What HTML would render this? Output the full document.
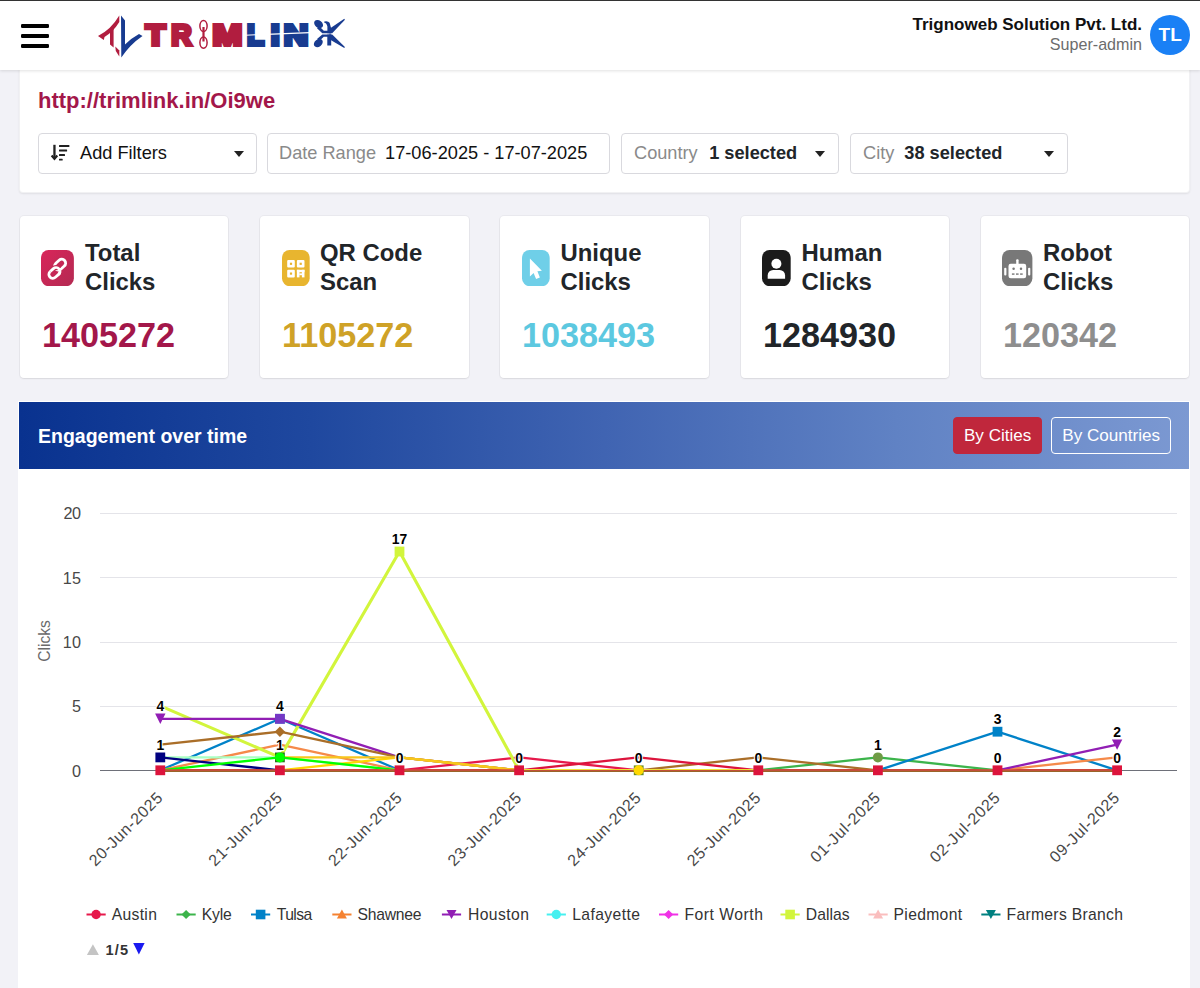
<!DOCTYPE html>
<html lang="en">
<head>
<meta charset="utf-8">
<title>Trimlink Analytics</title>
<style>
*{box-sizing:border-box;margin:0;padding:0}
html,body{width:1200px;height:988px;overflow:hidden}
body{background:#f2f2f7;font-family:"Liberation Sans",Arial,sans-serif;color:#212529;position:relative}
.abs{position:absolute}
/* header */
#hdr{position:absolute;left:0;top:0;width:1200px;height:70px;background:#fff;border-top:1px solid #333;box-shadow:0 1px 3px rgba(0,0,0,.12);z-index:5}
.bar{position:absolute;left:21.4px;width:27.8px;height:4.2px;background:#000;border-radius:1.2px}
#org{position:absolute;right:58px;top:14px;text-align:right;font-weight:bold;font-size:17px;color:#111;line-height:20px;white-space:nowrap}
#role{position:absolute;right:58px;top:33.1px;text-align:right;font-size:16.1px;color:#6c6c6c;line-height:20px;white-space:nowrap}
#avatar{position:absolute;left:1150px;top:13.6px;width:40.4px;height:40.4px;border-radius:50%;background:#1a80f5;color:#fff;font-weight:bold;font-size:19px;text-align:center;line-height:40.6px}
/* filter card */
#fcard{position:absolute;left:19px;top:66px;width:1171px;height:126.5px;background:#fff;border-radius:4px;box-shadow:inset 0 0 0 1px rgba(60,60,90,.07),0 1px 2px rgba(0,0,0,.08)}
#url{position:absolute;left:19px;top:23.2px;font-size:22px;font-weight:bold;color:#a3174a;line-height:24px;white-space:nowrap}
.sel{position:absolute;top:67px;height:41px;border:1px solid #d9d9de;border-radius:4px;background:#fff;font-size:18.2px;line-height:39px;white-space:nowrap;color:#111}
.sel .lb{color:#8a8a8a}
.sel b{color:#212529}
.caret{position:absolute;top:17px;width:0;height:0;border-left:5px solid transparent;border-right:5px solid transparent;border-top:6px solid #222}
/* stat cards */
.stat{position:absolute;top:216.4px;width:208.5px;height:161.6px;background:#fff;border-radius:4px;box-shadow:0 0 0 1px rgba(0,0,0,.035),0 1px 2px rgba(0,0,0,.07)}
.stat .ttl{position:absolute;top:22.7px;font-size:23.9px;font-weight:bold;line-height:28.6px;color:#212529;white-space:nowrap}
.stat .num{position:absolute;top:97.4px;font-size:34.2px;font-weight:bold;line-height:42px;white-space:nowrap}
/* chart */
#panel{position:absolute;left:18.4px;top:401.3px;width:1171.2px;height:600px;background:#fff;overflow:hidden}
#phead{position:absolute;left:1px;top:1px;width:1169.8px;height:66.3px;background:linear-gradient(90deg,#09328f 0%,#1f489f 25%,#4064b2 50%,#6082c4 75%,#7c99d2 100%)}
#ptitle{position:absolute;left:18.6px;top:22.4px;font-size:19.5px;font-weight:bold;color:#fff;line-height:22px;white-space:nowrap}
.btn{position:absolute;top:14.6px;height:37.4px;border-radius:4px;color:#fff;font-size:17.1px;line-height:35.6px;text-align:center;white-space:nowrap}
#chart{position:absolute;left:0;top:0}
</style>
</head>
<body>
<div id="hdr">
  <div class="bar" style="top:22.8px"></div>
  <div class="bar" style="top:32.7px"></div>
  <div class="bar" style="top:42.8px"></div>
  <svg id="logo" class="abs" style="left:90px;top:4px" width="270" height="60" viewBox="90 5 270 60" role="img" aria-label="TRIMLINK">
<path d="M98,36 Q111,29.5 119.3,15.5 L119.3,22 Q113.5,31.5 104.5,37 L103.8,40 Z" fill="#b11d3f"/>
<path d="M110,30.5 L113.6,27 L113.6,47.5 L110,44.5 Z" fill="#b11d3f"/>
<path d="M115.3,46.5 L119.3,50.5 L119.3,56.5 L115.8,51 Z" fill="#b11d3f"/>
<path d="M121,15.5 L125,20.5 L125,44.5 Q131.5,38 139,34 L142.5,36 Q130,44.5 121.3,57.5 Z" fill="#183b90"/>
<text transform="translate(145.83,45.4) scale(1.128,1)" font-size="28.6" fill="#b11d3f" stroke="#b11d3f" stroke-width="3.8" stroke-linejoin="miter" font-family="Liberation Sans, Arial, sans-serif" font-weight="bold">T</text>
<text transform="translate(171.29,45.4) scale(0.987,1)" font-size="28.6" fill="#b11d3f" stroke="#b11d3f" stroke-width="3.8" stroke-linejoin="miter" font-family="Liberation Sans, Arial, sans-serif" font-weight="bold">R</text>
<text transform="translate(212.62,45.4) scale(1.247,1)" font-size="28.6" fill="#b11d3f" stroke="#b11d3f" stroke-width="3.8" stroke-linejoin="miter" font-family="Liberation Sans, Arial, sans-serif" font-weight="bold">M</text>
<text transform="translate(246.99,45.4) scale(0.980,1)" font-size="28.6" fill="#183b90" stroke="#183b90" stroke-width="3.8" stroke-linejoin="miter" font-family="Liberation Sans, Arial, sans-serif" font-weight="bold">L</text>
<text transform="translate(270.81,45.4) scale(1.117,1)" font-size="28.6" fill="#183b90" stroke="#183b90" stroke-width="3.8" stroke-linejoin="miter" font-family="Liberation Sans, Arial, sans-serif" font-weight="bold">I</text>
<text transform="translate(283.71,45.4) scale(1.188,1)" font-size="28.6" fill="#183b90" stroke="#183b90" stroke-width="3.8" stroke-linejoin="miter" font-family="Liberation Sans, Arial, sans-serif" font-weight="bold">N</text>
<line x1="245" y1="35.2" x2="310" y2="32.6" stroke="#fff" stroke-width="1.1"/>
<g fill="none" stroke="#b11d3f" stroke-width="1.5"><ellipse cx="203.5" cy="26" rx="3.6" ry="5.6"/><ellipse cx="203.5" cy="42.6" rx="3.6" ry="5.6"/><path d="M203.5,27 V41.5" stroke-width="2.2"/></g>
<g fill="#183b90"><ellipse cx="318.6" cy="24.1" rx="4.9" ry="3.6" transform="rotate(38 318.6 24.1)"/><polygon points="319.5,26.5 323.8,30.8 331,30.8 331,33.2 322.3,33.2 317,28.3"/><path d="M324.3,21.4 Q328.2,20.6 329.6,22.8 L331.2,28.5 L331.2,33.2 L327.4,33.2 L327.4,26.5 Q326.6,23 324.3,22.7 Z"/><polygon points="329.5,28.8 344.3,18.8 344.9,19.7 332.2,33.2 329,33.2"/><ellipse cx="318.3" cy="43.1" rx="4.9" ry="3.6" transform="rotate(-38 318.3 43.1)"/><polygon points="317,39 322.3,34.6 331,34.6 331,36.8 323.8,36.8 319.5,40.8"/><rect x="327.3" y="34.6" width="3.9" height="10.9"/><polygon points="329,34.6 332.2,34.6 344.9,47 344.3,47.9 329.8,39.6"/></g>
</svg>
  <div id="org">Trignoweb Solution Pvt. Ltd.</div>
  <div id="role">Super-admin</div>
  <div id="avatar">TL</div>
</div>

<div id="fcard">
  <div id="url">http://trimlink.in/Oi9we</div>
  <div class="sel" style="left:19px;width:219px"><svg class="abs" style="left:11px;top:9px" width="22" height="20" viewBox="50 143 22 20"><g fill="#212121"><rect x="53.3" y="144.8" width="2.3" height="14"/><polygon points="50.8,156.2 52.4,154.8 54.45,157.2 56.5,154.8 58.1,156.2 54.45,160.4"/><rect x="59" y="145" width="10.4" height="1.9" rx=".5"/><rect x="59" y="149.6" width="8.1" height="1.9" rx=".5"/><rect x="59" y="154.1" width="6" height="1.9" rx=".5"/><rect x="59" y="158.7" width="3.7" height="1.9" rx=".5"/></g></svg><span style="margin-left:41px">Add Filters</span><i class="caret" style="left:195px"></i></div>
  <div class="sel" style="left:248px;width:343px"><span class="lb" style="margin-left:11px">Date Range</span><span style="margin-left:9px">17-06-2025 - 17-07-2025</span></div>
  <div class="sel" style="left:602px;width:218px"><span class="lb" style="margin-left:12px">Country</span><b style="margin-left:11.5px">1 selected</b><i class="caret" style="left:193px"></i></div>
  <div class="sel" style="left:831px;width:218px"><span class="lb" style="margin-left:12px">City</span><b style="margin-left:10px">38 selected</b><i class="caret" style="left:193px"></i></div>
</div>

<div class="stat" style="left:19.5px"><svg class="abs" style="left:21.8px;top:33.2px" width="32.9" height="36.2" viewBox="41.3 249.6 32.9 36.2"><defs><linearGradient id="g1" x1="0" y1="0" x2="1" y2="1"><stop offset="0" stop-color="#d9255a"/><stop offset="1" stop-color="#b32a52"/></linearGradient></defs><rect x="41.3" y="249.6" width="32.9" height="36.2" rx="7.5" ry="8" fill="url(#g1)"/><g fill="none" transform="rotate(-42 57.7 268.4)"><rect x="46.6" y="265.6" width="12.2" height="7.8" rx="3.9" stroke="#fff" stroke-width="2.8"/><rect x="56.4" y="263.2" width="12.2" height="7.8" rx="3.9" stroke="#c42a56" stroke-width="5.2"/><rect x="56.4" y="263.2" width="12.2" height="7.8" rx="3.9" stroke="#fff" stroke-width="2.8"/><path d="M50.5,265.6 H54.9 A3.9,3.9 0 0 1 58.8,269.5" stroke="#c42a56" stroke-width="5.2"/><path d="M50.5,265.6 H54.9 A3.9,3.9 0 0 1 58.8,269.5 A3.9,3.9 0 0 1 54.9,273.4" stroke="#fff" stroke-width="2.8"/></g></svg><div class="ttl" style="left:65.5px">Total<br>Clicks</div><div class="num" style="left:22.5px;color:#a3174a">1405272</div></div>
<div class="stat" style="left:260px"><svg class="abs" style="left:22.1px;top:33.2px" width="27.7" height="36.2" viewBox="282.1 249.6 27.7 36.2"><rect x="282.1" y="249.6" width="27.7" height="36.2" rx="7.5" ry="8" fill="#e8b52f"/><g fill="#fff"><rect x="287.3" y="259.6" width="7.6" height="7.6" rx="1"/><rect x="297" y="259.6" width="7.6" height="7.6" rx="1"/><rect x="287.3" y="269.4" width="7.6" height="7.6" rx="1"/><rect x="297" y="269.4" width="2.6" height="7.6"/><rect x="302" y="269.4" width="2.6" height="7.6"/><rect x="297" y="269.4" width="7.6" height="2.4"/><rect x="299.4" y="273" width="2.8" height="1.8"/></g><g fill="#e8b52f"><rect x="290" y="262.3" width="2.2" height="2.2"/><rect x="299.7" y="262.3" width="2.2" height="2.2"/><rect x="290" y="272.1" width="2.2" height="2.2"/></g></svg><div class="ttl" style="left:60.0px">QR Code<br>Scan</div><div class="num" style="left:22.0px;color:#cfa227">1105272</div></div>
<div class="stat" style="left:500.4px"><svg class="abs" style="left:21.7px;top:33.2px" width="27.7" height="36.2" viewBox="522.1 249.6 27.7 36.2"><rect x="522.1" y="249.6" width="27.7" height="36.2" rx="7.5" ry="8" fill="#6fcfe8"/><polygon points="530,258.2 542,270.3 537.5,270.9 540,277 536.2,278.7 533.7,272.7 530,276.2" fill="#fff"/></svg><div class="ttl" style="left:60.1px">Unique<br>Clicks</div><div class="num" style="left:21.6px;color:#5cc8e0">1038493</div></div>
<div class="stat" style="left:740.9px"><svg class="abs" style="left:21.4px;top:33.2px" width="28.7" height="36.2" viewBox="762.3 249.6 28.7 36.2"><rect x="762.3" y="249.6" width="28.7" height="36.2" rx="7.5" ry="8" fill="#1b1b1b"/><circle cx="776.7" cy="263.3" r="5" fill="#fff"/><path d="M768,278.3 V275 a5.4,5.4 0 0 1 5.4,-5.4 h6.6 a5.4,5.4 0 0 1 5.4,5.4 V278.3 Z" fill="#fff"/></svg><div class="ttl" style="left:60.6px">Human<br>Clicks</div><div class="num" style="left:22.1px;color:#212529">1284930</div></div>
<div class="stat" style="left:980.8px"><svg class="abs" style="left:21.7px;top:33.2px" width="30.4" height="36.2" viewBox="1002.5 249.6 30.4 36.2"><rect x="1002.5" y="249.6" width="30.4" height="36.2" rx="7.5" ry="8" fill="#787878"/><g fill="#fff"><rect x="1009" y="263.3" width="17.7" height="14.6" rx="2.2"/><rect x="1016.7" y="258.8" width="2.4" height="5.5" rx="1"/><rect x="1004.7" y="267.4" width="2.2" height="7.6" rx="1"/><rect x="1028.6" y="267.4" width="2.2" height="7.6" rx="1"/></g><g fill="#787878"><circle cx="1014.1" cy="268.4" r="1.25"/><circle cx="1021.5" cy="268.4" r="1.25"/><rect x="1012.4" y="273" width="2.6" height="1.4"/><rect x="1016.5" y="273" width="2.6" height="1.4"/><rect x="1020.6" y="273" width="2.6" height="1.4"/></g></svg><div class="ttl" style="left:62.2px">Robot<br>Clicks</div><div class="num" style="left:22.2px;color:#8e8e8e">120342</div></div>

<div id="panel">
  <div id="phead">
    <div id="ptitle">Engagement over time</div>
    <div class="btn" style="left:933.6px;width:89.4px;background:#c0273c;border:1px solid #c0273c">By Cities</div>
    <div class="btn" style="left:1031.8px;width:120px;border:1px solid #fff">By Countries</div>
  </div>
</div>
<svg id="chart" width="1200" height="988" viewBox="0 0 1200 988">
<line x1="100" x2="1177" y1="706.5" y2="706.5" stroke="#e4e4e9" stroke-width="1"/>
<line x1="100" x2="1177" y1="642.5" y2="642.5" stroke="#e4e4e9" stroke-width="1"/>
<line x1="100" x2="1177" y1="577.5" y2="577.5" stroke="#e4e4e9" stroke-width="1"/>
<line x1="100" x2="1177" y1="513.5" y2="513.5" stroke="#e4e4e9" stroke-width="1"/>
<text x="81.00" y="776.8" text-anchor="end" font-size="16.2" letter-spacing="0.00" fill="#484848" font-family="Liberation Sans, Arial, sans-serif">0</text>
<text x="81.00" y="712.4" text-anchor="end" font-size="16.2" letter-spacing="0.00" fill="#484848" font-family="Liberation Sans, Arial, sans-serif">5</text>
<text x="81.30" y="648.1" text-anchor="end" font-size="16.2" letter-spacing="0.30" fill="#484848" font-family="Liberation Sans, Arial, sans-serif">10</text>
<text x="81.30" y="583.8" text-anchor="end" font-size="16.2" letter-spacing="0.30" fill="#484848" font-family="Liberation Sans, Arial, sans-serif">15</text>
<text x="80.50" y="519.4" text-anchor="end" font-size="16.2" letter-spacing="-0.50" fill="#484848" font-family="Liberation Sans, Arial, sans-serif">20</text>
<text transform="translate(49.7,641.00) rotate(-90)" text-anchor="middle" font-size="15.6" letter-spacing="0.00" fill="#6a6a6a" font-family="Liberation Sans, Arial, sans-serif">Clicks</text>
<polyline points="160.3,770.3 279.9,770.3 399.5,770.3 519.1,770.3 638.7,770.3 758.3,770.3 877.9,770.3 997.5,770.3 1117.1,770.3" fill="none" stroke="#800000" stroke-width="2.3" stroke-linejoin="round"/>
<polyline points="399.5,770.3 519.1,757.4 638.7,770.3" fill="none" stroke="#e6194b" stroke-width="2.3" stroke-linejoin="round"/>
<polyline points="758.3,770.3 877.9,757.4 997.5,770.3" fill="none" stroke="#3cb44b" stroke-width="2.3" stroke-linejoin="round"/>
<polyline points="160.3,770.3 279.9,718.8 399.5,770.3" fill="none" stroke="#0082c8" stroke-width="2.3" stroke-linejoin="round"/>
<polyline points="877.9,770.3 997.5,731.7 1117.1,770.3" fill="none" stroke="#0082c8" stroke-width="2.3" stroke-linejoin="round"/>
<polyline points="160.3,770.3 279.9,744.6 399.5,770.3" fill="none" stroke="#f58a4a" stroke-width="2.3" stroke-linejoin="round"/>
<polyline points="997.5,770.3 1117.1,757.4" fill="none" stroke="#f58a4a" stroke-width="2.3" stroke-linejoin="round"/>
<polyline points="160.3,705.9 279.9,757.4 399.5,551.5 519.1,770.3" fill="none" stroke="#d2f53c" stroke-width="3.1" stroke-linejoin="round"/>
<polyline points="160.3,718.8 279.9,718.8 399.5,757.4 519.1,770.3" fill="none" stroke="#911eb4" stroke-width="2.3" stroke-linejoin="round"/>
<polyline points="997.5,770.3 1117.1,744.6" fill="none" stroke="#911eb4" stroke-width="2.3" stroke-linejoin="round"/>
<polyline points="160.3,744.6 279.9,731.7 399.5,757.4 519.1,770.3" fill="none" stroke="#aa6e28" stroke-width="2.3" stroke-linejoin="round"/>
<polyline points="638.7,770.3 758.3,757.4 877.9,770.3" fill="none" stroke="#aa6e28" stroke-width="2.3" stroke-linejoin="round"/>
<polyline points="160.3,757.4 279.9,757.4 399.5,770.3" fill="none" stroke="#aaffc3" stroke-width="2.3" stroke-linejoin="round"/>
<polyline points="160.3,757.4 279.9,770.3" fill="none" stroke="#000080" stroke-width="2.3" stroke-linejoin="round"/>
<polyline points="279.9,770.3 399.5,757.4 519.1,770.3" fill="none" stroke="#ffd700" stroke-width="2.3" stroke-linejoin="round"/>
<polyline points="279.9,757.4 399.5,757.4 519.1,770.3" fill="none" stroke="#f7c61c" stroke-width="2.3" stroke-linejoin="round"/>
<polyline points="160.3,770.3 279.9,757.4 399.5,770.3" fill="none" stroke="#00ff00" stroke-width="2.3" stroke-linejoin="round"/>
<polyline points="519.1,770.3 638.7,757.4 758.3,770.3" fill="none" stroke="#dc143c" stroke-width="2.3" stroke-linejoin="round"/>
<line x1="160.3" x2="1117.1" y1="771.2" y2="771.2" stroke="#9a6428" stroke-width="1.6"/>
<line x1="160.3" x2="1117.1" y1="769.9" y2="769.9" stroke="#dd4a3a" stroke-width="1.5"/>
<line x1="519.1" x2="758.3" y1="769.8" y2="769.8" stroke="#f2e236" stroke-width="1.7"/>
<line x1="100" x2="1177" y1="770.5" y2="770.5" stroke="#6e7079" stroke-width="1"/>
<line x1="160.3" x2="1117.1" y1="770.5" y2="770.5" stroke="#c2503a" stroke-width="1"/>
<polygon points="155.1,713.6 165.5,713.6 160.3,724.0" fill="#911eb4"/>
<rect x="155.4" y="752.5" width="9.8" height="9.8" fill="#000080"/>
<rect x="275.0" y="713.9" width="9.8" height="9.8" fill="#0082c8"/>
<rect x="275.0" y="713.9" width="9.8" height="9.8" fill="#8a2cc4" opacity="0.85"/>
<polygon points="279.9,726.5 285.1,731.7 279.9,736.9 274.7,731.7" fill="#aa6e28"/>
<rect x="275.0" y="752.5" width="9.8" height="9.8" fill="#2e6b1e"/>
<circle cx="279.9" cy="757.4" r="5" fill="#00ff00"/>
<rect x="394.6" y="546.6" width="9.8" height="9.8" fill="#d2f53c"/>
<rect x="633.8" y="765.4" width="9.8" height="9.8" fill="#6b8e23"/>
<circle cx="638.7" cy="770.3" r="5" fill="#ffd700"/>
<circle cx="877.9" cy="757.4" r="5" fill="#6f9b45"/>
<rect x="992.6" y="726.8" width="9.8" height="9.8" fill="#0082c8"/>
<polygon points="1111.9,739.4 1122.3,739.4 1117.1,749.8" fill="#911eb4"/>
<rect x="155.4" y="765.4" width="9.8" height="9.8" fill="#dc143c"/>
<rect x="275.0" y="765.4" width="9.8" height="9.8" fill="#dc143c"/>
<rect x="394.6" y="765.4" width="9.8" height="9.8" fill="#dc143c"/>
<rect x="514.2" y="765.4" width="9.8" height="9.8" fill="#dc143c"/>
<rect x="753.4" y="765.4" width="9.8" height="9.8" fill="#dc143c"/>
<rect x="873.0" y="765.4" width="9.8" height="9.8" fill="#dc143c"/>
<rect x="992.6" y="765.4" width="9.8" height="9.8" fill="#dc143c"/>
<rect x="1112.2" y="765.4" width="9.8" height="9.8" fill="#dc143c"/>
<text x="160.30" y="711.0" text-anchor="middle" font-size="13.9" font-weight="bold" letter-spacing="0.00" fill="#000" stroke="#fff" stroke-width="2" paint-order="stroke" font-family="Liberation Sans, Arial, sans-serif">4</text>
<text x="160.30" y="749.6" text-anchor="middle" font-size="13.9" font-weight="bold" letter-spacing="0.00" fill="#000" stroke="#fff" stroke-width="2" paint-order="stroke" font-family="Liberation Sans, Arial, sans-serif">1</text>
<text x="279.90" y="711.0" text-anchor="middle" font-size="13.9" font-weight="bold" letter-spacing="0.00" fill="#000" stroke="#fff" stroke-width="2" paint-order="stroke" font-family="Liberation Sans, Arial, sans-serif">4</text>
<text x="279.90" y="749.6" text-anchor="middle" font-size="13.9" font-weight="bold" letter-spacing="0.00" fill="#000" stroke="#fff" stroke-width="2" paint-order="stroke" font-family="Liberation Sans, Arial, sans-serif">1</text>
<text x="399.59" y="543.7" text-anchor="middle" font-size="13.9" font-weight="bold" letter-spacing="0.17" fill="#000" stroke="#fff" stroke-width="2" paint-order="stroke" font-family="Liberation Sans, Arial, sans-serif">17</text>
<text x="399.50" y="762.5" text-anchor="middle" font-size="13.9" font-weight="bold" letter-spacing="0.00" fill="#000" stroke="#fff" stroke-width="2" paint-order="stroke" font-family="Liberation Sans, Arial, sans-serif">0</text>
<text x="519.10" y="762.5" text-anchor="middle" font-size="13.9" font-weight="bold" letter-spacing="0.00" fill="#000" stroke="#fff" stroke-width="2" paint-order="stroke" font-family="Liberation Sans, Arial, sans-serif">0</text>
<text x="638.70" y="762.5" text-anchor="middle" font-size="13.9" font-weight="bold" letter-spacing="0.00" fill="#000" stroke="#fff" stroke-width="2" paint-order="stroke" font-family="Liberation Sans, Arial, sans-serif">0</text>
<text x="758.30" y="762.5" text-anchor="middle" font-size="13.9" font-weight="bold" letter-spacing="0.00" fill="#000" stroke="#fff" stroke-width="2" paint-order="stroke" font-family="Liberation Sans, Arial, sans-serif">0</text>
<text x="877.90" y="749.6" text-anchor="middle" font-size="13.9" font-weight="bold" letter-spacing="0.00" fill="#000" stroke="#fff" stroke-width="2" paint-order="stroke" font-family="Liberation Sans, Arial, sans-serif">1</text>
<text x="997.50" y="723.9" text-anchor="middle" font-size="13.9" font-weight="bold" letter-spacing="0.00" fill="#000" stroke="#fff" stroke-width="2" paint-order="stroke" font-family="Liberation Sans, Arial, sans-serif">3</text>
<text x="997.50" y="762.5" text-anchor="middle" font-size="13.9" font-weight="bold" letter-spacing="0.00" fill="#000" stroke="#fff" stroke-width="2" paint-order="stroke" font-family="Liberation Sans, Arial, sans-serif">0</text>
<text x="1117.10" y="736.8" text-anchor="middle" font-size="13.9" font-weight="bold" letter-spacing="0.00" fill="#000" stroke="#fff" stroke-width="2" paint-order="stroke" font-family="Liberation Sans, Arial, sans-serif">2</text>
<text x="1117.10" y="762.5" text-anchor="middle" font-size="13.9" font-weight="bold" letter-spacing="0.00" fill="#000" stroke="#fff" stroke-width="2" paint-order="stroke" font-family="Liberation Sans, Arial, sans-serif">0</text>
<text transform="translate(163.5,799.0) rotate(-45)" x="0.63" text-anchor="end" font-size="16" letter-spacing="0.63" fill="#484848" font-family="Liberation Sans, Arial, sans-serif">20-Jun-2025</text>
<text transform="translate(283.1,799.0) rotate(-45)" x="0.63" text-anchor="end" font-size="16" letter-spacing="0.63" fill="#484848" font-family="Liberation Sans, Arial, sans-serif">21-Jun-2025</text>
<text transform="translate(402.7,799.0) rotate(-45)" x="0.63" text-anchor="end" font-size="16" letter-spacing="0.63" fill="#484848" font-family="Liberation Sans, Arial, sans-serif">22-Jun-2025</text>
<text transform="translate(522.3,799.0) rotate(-45)" x="0.63" text-anchor="end" font-size="16" letter-spacing="0.63" fill="#484848" font-family="Liberation Sans, Arial, sans-serif">23-Jun-2025</text>
<text transform="translate(641.9,799.0) rotate(-45)" x="0.63" text-anchor="end" font-size="16" letter-spacing="0.63" fill="#484848" font-family="Liberation Sans, Arial, sans-serif">24-Jun-2025</text>
<text transform="translate(761.5,799.0) rotate(-45)" x="0.63" text-anchor="end" font-size="16" letter-spacing="0.63" fill="#484848" font-family="Liberation Sans, Arial, sans-serif">25-Jun-2025</text>
<text transform="translate(881.1,799.0) rotate(-45)" x="0.66" text-anchor="end" font-size="16" letter-spacing="0.66" fill="#484848" font-family="Liberation Sans, Arial, sans-serif">01-Jul-2025</text>
<text transform="translate(1000.7,799.0) rotate(-45)" x="0.66" text-anchor="end" font-size="16" letter-spacing="0.66" fill="#484848" font-family="Liberation Sans, Arial, sans-serif">02-Jul-2025</text>
<text transform="translate(1120.3,799.0) rotate(-45)" x="0.66" text-anchor="end" font-size="16" letter-spacing="0.66" fill="#484848" font-family="Liberation Sans, Arial, sans-serif">09-Jul-2025</text>
<line x1="86.5" x2="105.7" y1="914.5" y2="914.5" stroke="#e6194b" stroke-width="2"/>
<circle cx="96.1" cy="914.5" r="4.7" fill="#e6194b"/>
<text x="111.7" y="920" font-size="15.7" letter-spacing="0.32" fill="#333" font-family="Liberation Sans, Arial, sans-serif">Austin</text>
<line x1="176.5" x2="195.7" y1="914.5" y2="914.5" stroke="#3cb44b" stroke-width="2"/>
<polygon points="186.1,909.9 190.7,914.5 186.1,919.1 181.5,914.5" fill="#3cb44b"/>
<text x="201.7" y="920" font-size="15.7" letter-spacing="-0.16" fill="#333" font-family="Liberation Sans, Arial, sans-serif">Kyle</text>
<line x1="251" x2="270.2" y1="914.5" y2="914.5" stroke="#0082c8" stroke-width="2"/>
<rect x="255.8" y="909.7" width="9.6" height="9.6" fill="#0082c8"/>
<text x="276.7" y="920" font-size="15.7" letter-spacing="-0.56" fill="#333" font-family="Liberation Sans, Arial, sans-serif">Tulsa</text>
<line x1="332.3" x2="351.5" y1="914.5" y2="914.5" stroke="#f58231" stroke-width="2"/>
<polygon points="341.90000000000003,909.5 346.90000000000003,918.5 336.90000000000003,918.5" fill="#f58231"/>
<text x="357.5" y="920" font-size="15.7" letter-spacing="-0.22" fill="#333" font-family="Liberation Sans, Arial, sans-serif">Shawnee</text>
<line x1="441.9" x2="461.09999999999997" y1="914.5" y2="914.5" stroke="#911eb4" stroke-width="2"/>
<polygon points="446.5,910.0 456.5,910.0 451.5,919.0" fill="#911eb4"/>
<text x="467.9" y="920" font-size="15.7" letter-spacing="0.45" fill="#333" font-family="Liberation Sans, Arial, sans-serif">Houston</text>
<line x1="546.7" x2="565.9000000000001" y1="914.5" y2="914.5" stroke="#46f0f0" stroke-width="2"/>
<circle cx="556.3000000000001" cy="914.5" r="4.7" fill="#46f0f0"/>
<text x="572.2" y="920" font-size="15.7" letter-spacing="0.40" fill="#333" font-family="Liberation Sans, Arial, sans-serif">Lafayette</text>
<line x1="659" x2="678.2" y1="914.5" y2="914.5" stroke="#f032e6" stroke-width="2"/>
<polygon points="668.6,909.9 673.2,914.5 668.6,919.1 664.0,914.5" fill="#f032e6"/>
<text x="684.5" y="920" font-size="15.7" letter-spacing="0.51" fill="#333" font-family="Liberation Sans, Arial, sans-serif">Fort Worth</text>
<line x1="780.5" x2="799.7" y1="914.5" y2="914.5" stroke="#d2f53c" stroke-width="2"/>
<rect x="785.3000000000001" y="909.7" width="9.6" height="9.6" fill="#d2f53c"/>
<text x="805.8" y="920" font-size="15.7" letter-spacing="0.05" fill="#333" font-family="Liberation Sans, Arial, sans-serif">Dallas</text>
<line x1="868.5" x2="887.7" y1="914.5" y2="914.5" stroke="#fabebe" stroke-width="2"/>
<polygon points="878.1,909.5 883.1,918.5 873.1,918.5" fill="#fabebe"/>
<text x="893.6" y="920" font-size="15.7" letter-spacing="0.31" fill="#333" font-family="Liberation Sans, Arial, sans-serif">Piedmont</text>
<line x1="981.3" x2="1000.5" y1="914.5" y2="914.5" stroke="#008080" stroke-width="2"/>
<polygon points="985.9,910.0 995.9,910.0 990.9,919.0" fill="#008080"/>
<text x="1006.5" y="920" font-size="15.7" letter-spacing="0.31" fill="#333" font-family="Liberation Sans, Arial, sans-serif">Farmers Branch</text>
<polygon points="92.9,944.3 98.9,955 86.9,955" fill="#c4c4c4"/>
<text x="105.6" y="955" font-size="14.6" font-weight="bold" letter-spacing="1.06" fill="#333" font-family="Liberation Sans, Arial, sans-serif">1/5</text>
<polygon points="133.2,943 144.6,943 138.9,954.4" fill="#1a1af0"/>
</svg>
</body>
</html>
